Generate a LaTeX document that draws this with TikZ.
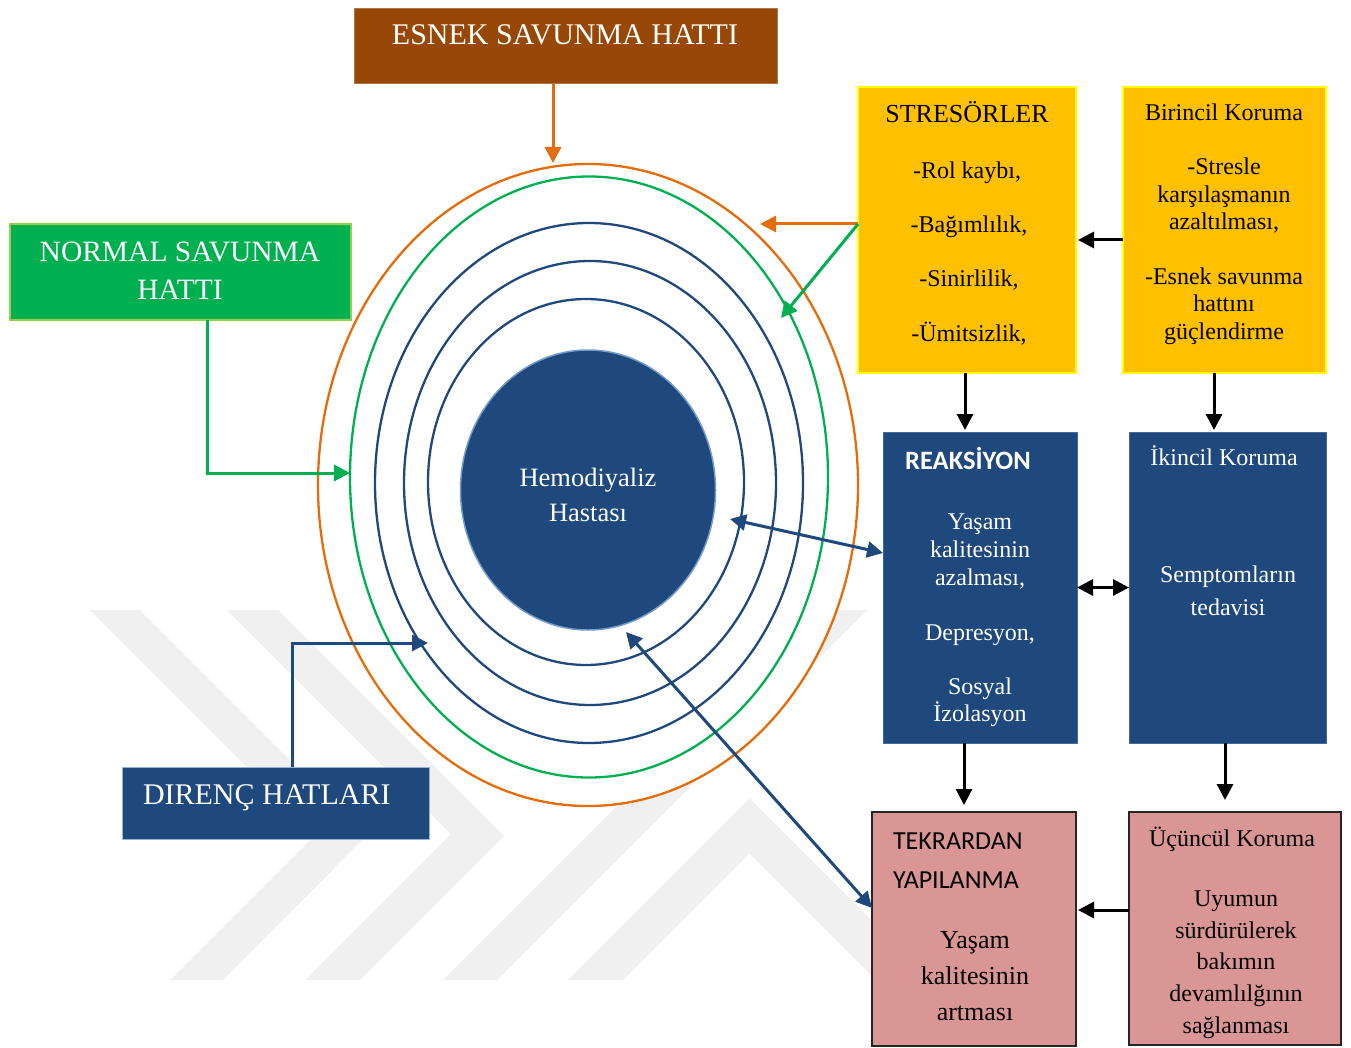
\documentclass[tikz,border=0pt]{standalone}
\usepackage{fontspec}
\setmainfont{Liberation Serif}
\newfontfamily\calibri{Carlito}
\usetikzlibrary{arrows.meta,shapes.geometric}
\definecolor{brownbox}{HTML}{984806}
\definecolor{orln}{HTML}{E46C0A}
\definecolor{grn}{HTML}{00B050}
\definecolor{lgrn}{HTML}{92D050}
\definecolor{navy}{HTML}{1F497D}
\definecolor{navyedge}{HTML}{4F81BD}
\definecolor{ylw}{HTML}{FFC000}
\definecolor{ylwedge}{HTML}{FFFF00}
\definecolor{pinkbox}{HTML}{D99694}
\definecolor{wm}{HTML}{F0F0F0}
\begin{document}
\begin{tikzpicture}[x=1pt,y=-1pt,
  box/.style={anchor=north west, inner sep=0pt, outer sep=0pt},
  ring/.style={ellipse, inner sep=0pt, outer sep=0pt, line width=2.3pt},
  txt/.style={inner sep=0pt, outer sep=0pt, anchor=mid, yshift=-6pt},
  ltxt/.style={inner sep=0pt, outer sep=0pt, anchor=mid west, yshift=-6pt},
  fs/.style={font=\fontsize{24}{28}\selectfont},
  arr/.style={line width=3pt, -{Triangle[length=16pt,width=16pt]}},
  darr/.style={line width=3pt, {Triangle[length=16pt,width=16pt]}-{Triangle[length=16pt,width=16pt]}}]
\useasboundingbox (0,0) rectangle (1351,1048);
\fill[white] (0,0) rectangle (1351,1048);
% watermark
\fill[wm] (90,610) -- (140,610) -- (366,836) -- (223,980) -- (170,980) -- (315,835) -- cycle;
\fill[wm] (227,610) -- (278,610) -- (504,836) -- (360,980) -- (305,980) -- (451,834) -- cycle;
\fill[wm] (443,980) -- (497,980) -- (867,610) -- (813,610) -- cycle;
\fill[wm] (568,980) -- (749.5,798.5) -- (931,980) -- (876,980) -- (749.5,853.5) -- (623,980) -- cycle;
% rings
\node[ring, draw=orln, fill=white, minimum width=540pt, minimum height=642pt] (orell) at (588,485) {};
\node[ring, draw=grn, minimum width=478pt, minimum height=601pt] (grnell) at (589,477) {};
\node[ring, draw=navy, minimum width=428pt, minimum height=520pt] (blue1) at (589,483) {};
\node[ring, draw=navy, minimum width=372pt, minimum height=444pt] (blue2) at (590,483) {};
\node[ring, draw=navy, minimum width=316pt, minimum height=366pt] (blue3) at (586,482) {};
\node[ellipse, inner sep=0pt, outer sep=0pt, fill=navy, draw=navyedge!80, line width=1.5pt, minimum width=255pt, minimum height=280pt] (hasta) at (588,490) {};
\node[txt, text=white, font=\fontsize{26.5}{30}\selectfont] (h1) at (588,478) {Hemodiyaliz};
\node[txt, text=white, font=\fontsize{26.5}{30}\selectfont] (h2) at (588,513) {Hastası};
% boxes
\node[box, fill=brownbox, draw=brownbox!75!white, line width=1pt, minimum width=423pt, minimum height=75pt] (esnek) at (354,9) {};
\node[txt, text=white, font=\fontsize{30}{32}\selectfont] (esnekt) at (565,36) {ESNEK SAVUNMA HATTI};
\node[box, fill=grn, draw=lgrn, line width=1.5pt, minimum width=341pt, minimum height=96pt] (normal) at (10,224) {};
\node[txt, text=white, font=\fontsize{29.5}{32}\selectfont] (n1) at (180,253) {NORMAL SAVUNMA};
\node[txt, text=white, font=\fontsize{29.5}{32}\selectfont] (n2) at (180,291) {HATTI};
\node[box, fill=navy, draw=navyedge!60!white, line width=1pt, minimum width=307pt, minimum height=72pt] (direnc) at (122,767) {};
\node[ltxt, text=white, font=\fontsize{30}{32}\selectfont] (dt) at (143,796) {DIRENÇ HATLARI};
% stresorler
\node[box, fill=ylw, draw=ylwedge, line width=1.5pt, minimum width=218pt, minimum height=286pt] (stres) at (858,87) {};
\node[txt, font=\fontsize{26}{30}\selectfont] (s0) at (967,114) {STRESÖRLER};
\node[txt, fs] (s1) at (967,170) {-Rol kaybı,};
\node[txt, fs] (s2) at (969,224) {-Bağımlılık,};
\node[txt, fs] (s3) at (969,278) {-Sinirlilik,};
\node[txt, fs] (s4) at (969,333) {-Ümitsizlik,};
% birincil
\node[box, fill=ylw, draw=ylwedge, line width=1.5pt, minimum width=203pt, minimum height=286pt] (birincil) at (1123,87) {};
\node[txt, fs] (b0) at (1224,112) {Birincil Koruma};
\node[txt, fs] (b1) at (1224,166) {-Stresle};
\node[txt, fs] (b2) at (1224,194) {karşılaşmanın};
\node[txt, fs] (b3) at (1224,221) {azaltılması,};
\node[txt, fs] (b4) at (1224,276) {-Esnek savunma};
\node[txt, fs] (b5) at (1224,303) {hattını};
\node[txt, fs] (b6) at (1224,331) {güçlendirme};
% reaksiyon
\node[box, fill=navy, draw=navyedge!60!navy, line width=1pt, minimum width=194pt, minimum height=311pt] (reak) at (883,432) {};
\node[txt, text=white, font=\calibri\bfseries\fontsize{26.5}{30}\selectfont] (r0) at (968,461) {REAKSİYON};
\node[txt, text=white, fs] (r1) at (980,521) {Yaşam};
\node[txt, text=white, fs] (r2) at (980,549) {kalitesinin};
\node[txt, text=white, fs] (r3) at (980,577) {azalması,};
\node[txt, text=white, fs] (r4) at (980,632) {Depresyon,};
\node[txt, text=white, fs] (r5) at (980,686) {Sosyal};
\node[txt, text=white, fs] (r6) at (980,713) {İzolasyon};
% ikincil
\node[box, fill=navy, draw=navyedge!60!navy, line width=1pt, minimum width=197pt, minimum height=311pt] (ikincil) at (1129,432) {};
\node[txt, text=white, fs] (i0) at (1224,457) {İkincil Koruma};
\node[txt, text=white, fs] (i1) at (1228,574) {Semptomların};
\node[txt, text=white, fs] (i2) at (1228,607) {tedavisi};
% tekrardan
\node[box, fill=pinkbox, draw=black!85, line width=2pt, minimum width=204pt, minimum height=234pt] (tekrar) at (872,812) {};
\node[ltxt, font=\calibri\fontsize{26}{28}\selectfont] (t0) at (893,841) {TEKRARDAN};
\node[ltxt, font=\calibri\fontsize{26}{28}\selectfont] (t1) at (893,880) {YAPILANMA};
\node[txt, font=\fontsize{26}{30}\selectfont] (t2) at (975,940) {Yaşam};
\node[txt, font=\fontsize{26}{30}\selectfont] (t3) at (975,976) {kalitesinin};
\node[txt, font=\fontsize{26}{30}\selectfont] (t4) at (975,1012) {artması};
% ucuncul
\node[box, fill=pinkbox, draw=black!85, line width=2pt, minimum width=212pt, minimum height=233pt] (uc) at (1129,812) {};
\node[txt, fs] (u0) at (1232,838) {Üçüncül Koruma};
\node[txt, fs] (u1) at (1236,898) {Uyumun};
\node[txt, fs] (u2) at (1236,930) {sürdürülerek};
\node[txt, fs] (u3) at (1236,961) {bakımın};
\node[txt, fs] (u4) at (1236,993) {devamlılğının};
\node[txt, fs] (u5) at (1236,1025) {sağlanması};
% coordinates
\coordinate (orngtop) at (553,163);
\coordinate (oeA) at (760,224);
\coordinate (geA) at (781,318);
\coordinate (b2s) at (1078,240);
\coordinate (s2r) at (965,430);
\coordinate (b2i) at (1214,430);
\coordinate (r2t) at (964,805);
\coordinate (i2u) at (1225,800);
\coordinate (u2t) at (1078,910);
\coordinate (hr) at (730,519);
\coordinate (rh) at (883,553);
\coordinate (ht) at (626,632);
\coordinate (th) at (872,908);
\coordinate (nbend) at (207,473);
\coordinate (dbend) at (292,643);
\coordinate (dtip) at (428,643);
% connectors
\draw[arr, orln] (esnek.south -| orngtop) -- (orngtop);
\draw[arr, orln] ([yshift=6pt]stres.west) -- (oeA);
\draw[arr, grn] ([yshift=6pt]stres.west) -- (geA);
\draw[arr, black] (birincil.west |- b2s) -- (b2s);
\draw[arr, black] (stres.south -| s2r) -- (s2r);
\draw[arr, black] (birincil.south -| b2i) -- (b2i);
\draw[darr, black] (reak.east) -- (ikincil.west);
\draw[arr, black] (reak.south -| r2t) -- (r2t);
\draw[arr, black] (ikincil.south -| i2u) -- (i2u);
\draw[arr, black] (uc.west |- u2t) -- (u2t);
\draw[darr, navy] (hr) -- (reak.west |- rh);
\draw[darr, navy] (ht) -- (tekrar.west |- th);
\draw[arr, grn] (normal.south -| nbend) -- (nbend) -- (grnell.west |- nbend);
\draw[arr, navy] (direnc.north -| dbend) -- (dbend) -- (dtip);
\end{tikzpicture}
\end{document}
